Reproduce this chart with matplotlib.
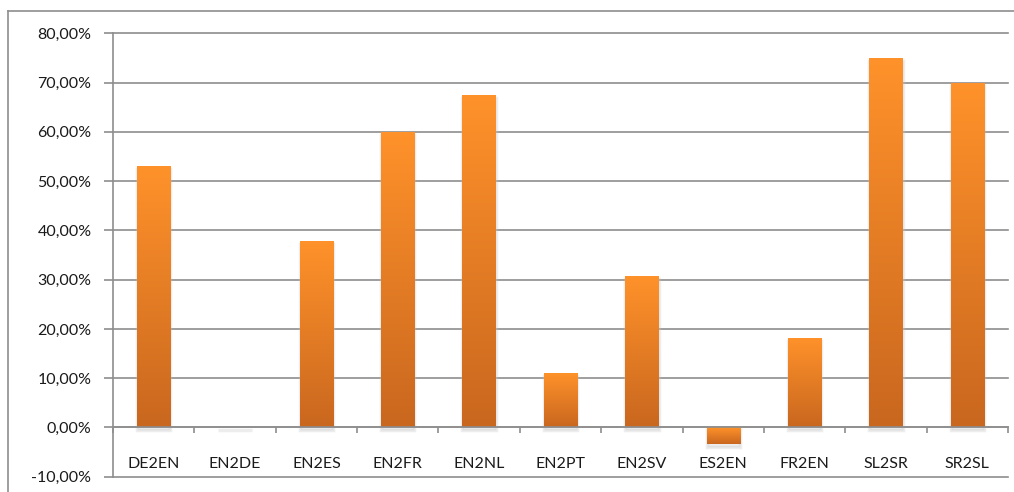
"""
Bar chart of percentage change per translation direction (Excel-style look).
"""

import matplotlib
matplotlib.use('Agg')

import numpy as np
import matplotlib.pyplot as plt
from matplotlib.patches import Rectangle
from matplotlib.lines import Line2D
from matplotlib.ticker import FuncFormatter, MultipleLocator
import matplotlib.transforms as mtransforms

# ================================================================
# Data
# ================================================================

directions = ['DE2EN', 'EN2DE', 'EN2ES', 'EN2FR', 'EN2NL', 'EN2PT',
              'EN2SV', 'ES2EN', 'FR2EN', 'SL2SR', 'SR2SL']
change = [0.531, 0.0, 0.378, 0.600, 0.674, 0.110,
          0.307, -0.033, 0.182, 0.750, 0.700]

Y_MIN, Y_MAX, Y_STEP = -0.10, 0.80, 0.10

GRID_COLOR = '#8e8e8e'
TEXT_COLOR = '#1a1a1a'
TOP_COLOR = np.array([255, 146, 42]) / 255.0
BOT_COLOR = np.array([201, 103, 31]) / 255.0


def pct_label(v, _pos):
    return f'{v * 100:.2f}%'.replace('.', ',')


def main():
    plt.rcParams['font.family'] = ['Lato', 'DejaVu Sans']

    fig = plt.figure(figsize=(10.14, 4.92), dpi=100)
    ax = fig.add_axes([113 / 1014, 1 - 476.7 / 492,
                       (1008 - 113) / 1014, (476.7 - 33.3) / 492])

    x = np.arange(len(directions))
    bars = ax.bar(x, change, width=0.41, color='none', zorder=3)

    # gradient fill + soft shadow for every bar
    grad = np.linspace(0, 1, 256)[:, None, None]
    img = TOP_COLOR * (1 - grad) + BOT_COLOR * grad
    shadow_tr = ax.transData + mtransforms.ScaledTranslation(
        0, -3 / 100, fig.dpi_scale_trans)
    for b in bars:
        x0, w = b.get_x(), b.get_width()
        y0, h = b.get_y(), b.get_height()
        lo, hi = min(y0, y0 + h), max(y0, y0 + h)
        sh = Rectangle((x0, lo), w, hi - lo, transform=shadow_tr,
                       facecolor='#c4c4c4', edgecolor='#c4c4c4',
                       linewidth=2.5, alpha=0.3, zorder=2)
        ax.add_patch(sh)
        if hi - lo > 0:
            im = ax.imshow(img, extent=(x0, x0 + w, lo, hi), origin='upper',
                           aspect='auto', zorder=3, interpolation='bilinear')
            im.set_clip_path(b)

    ax.set_xlim(-0.5, len(directions) - 0.5)
    ax.set_ylim(Y_MIN, Y_MAX)

    ax.yaxis.set_major_locator(MultipleLocator(Y_STEP))
    ax.yaxis.set_major_formatter(FuncFormatter(pct_label))
    ax.grid(axis='y', color=GRID_COLOR, linewidth=1.2, zorder=1)
    ax.set_axisbelow(True)
    for gl in ax.get_ygridlines():
        gl.set_clip_on(False)

    ax.spines['top'].set_visible(False)
    ax.spines['right'].set_visible(False)
    ax.spines['left'].set_color(GRID_COLOR)
    ax.spines['left'].set_linewidth(1.2)
    ax.spines['bottom'].set_position(('data', 0))
    ax.spines['bottom'].set_color(GRID_COLOR)
    ax.spines['bottom'].set_linewidth(1.2)
    ax.spines['bottom'].set_zorder(4)

    ax.tick_params(axis='y', length=6.5, width=1.2, color=GRID_COLOR,
                   pad=9, labelsize=11.5, labelcolor=TEXT_COLOR)
    ax.set_xticks(x)
    ax.set_xticklabels(directions)
    ax.set_xticks(np.arange(-0.5, len(directions)), minor=True)
    ax.tick_params(axis='x', which='major', length=0, pad=21,
                   labelsize=11.5, labelcolor=TEXT_COLOR)
    ax.tick_params(axis='x', which='minor', length=4.5, width=1.2,
                   color=GRID_COLOR, direction='out')

    # outer chart-area frame (only top and left edges visible in the crop)
    fig.add_artist(Line2D([8 / 1014, 8 / 1014], [0, 1 - 11 / 492],
                          transform=fig.transFigure, color=GRID_COLOR,
                          linewidth=1.2))
    fig.add_artist(Line2D([8 / 1014, 1], [1 - 11 / 492, 1 - 11 / 492],
                          transform=fig.transFigure, color=GRID_COLOR,
                          linewidth=1.2))

    fig.savefig('out.png', dpi=100, facecolor='white')


if __name__ == '__main__':
    main()
